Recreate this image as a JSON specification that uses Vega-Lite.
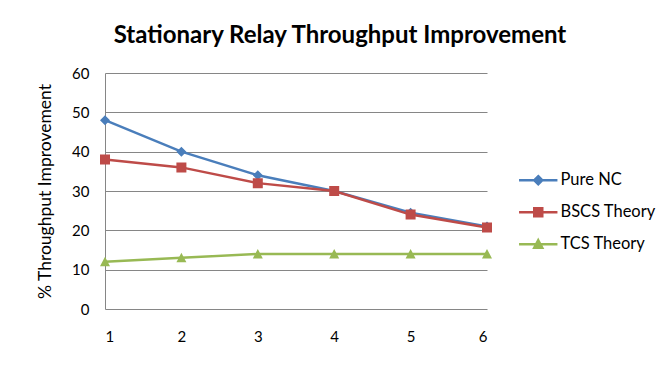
{
  "$schema": "https://vega.github.io/schema/vega-lite/v6.json",
  "autosize": "none",
  "width": 382,
  "height": 236,
  "padding": {"left": 105, "top": 73, "right": 173, "bottom": 60},
  "background": "white",
  "config": {
    "view": {"stroke": null},
    "font": "Lato",
    "axis": {"labelFont": "Lato", "titleFont": "Lato", "labelColor": "#000000", "titleColor": "#000000"}
  },
  "title": {
    "text": "Stationary Relay  Throughput Improvement",
    "fontSize": 24,
    "fontWeight": "bold",
    "font": "Lato",
    "color": "#000000",
    "anchor": "middle",
    "dx": 44,
    "offset": 18
  },
  "data": {
    "values": [
      {"x": 1, "series": "Pure NC", "value": 48},
      {"x": 2, "series": "Pure NC", "value": 40},
      {"x": 3, "series": "Pure NC", "value": 34},
      {"x": 4, "series": "Pure NC", "value": 30},
      {"x": 5, "series": "Pure NC", "value": 24.5},
      {"x": 6, "series": "Pure NC", "value": 21},
      {"x": 1, "series": "BSCS Theory", "value": 38},
      {"x": 2, "series": "BSCS Theory", "value": 36},
      {"x": 3, "series": "BSCS Theory", "value": 32},
      {"x": 4, "series": "BSCS Theory", "value": 30},
      {"x": 5, "series": "BSCS Theory", "value": 24},
      {"x": 6, "series": "BSCS Theory", "value": 20.7},
      {"x": 1, "series": "TCS Theory", "value": 12},
      {"x": 2, "series": "TCS Theory", "value": 13},
      {"x": 3, "series": "TCS Theory", "value": 14},
      {"x": 4, "series": "TCS Theory", "value": 14},
      {"x": 5, "series": "TCS Theory", "value": 14},
      {"x": 6, "series": "TCS Theory", "value": 14}
    ]
  },
  "encoding": {
    "x": {
      "field": "x", "type": "quantitative",
      "scale": {"domain": [1, 6], "nice": false},
      "axis": {"title": null, "grid": false, "ticks": false, "domain": false, "values": [1,2,3,4,5,6], "labelPadding": 20, "labelFontSize": 15, "format": "d"}
    },
    "y": {
      "field": "value", "type": "quantitative",
      "scale": {"domain": [0, 60], "nice": false},
      "axis": {"title": "% Throughput  Improvement", "titleFontSize": 17.5, "titleFontWeight": "normal", "values": [0,10,20,30,40,50,60], "labelFontSize": 15, "ticks": false, "labelPadding": 16, "titlePadding": 17, "domainColor": "#868686", "gridColor": "#868686", "gridWidth": 1}
    },
    "color": {"field": "series", "type": "nominal",
      "scale": {"domain": ["Pure NC", "BSCS Theory", "TCS Theory"], "range": ["#4A7EBB", "#BE4B48", "#98B954"]},
      "legend": {
        "title": null, "orient": "none", "legendX": 425, "legendY": 99,
        "labelFontSize": 16.5, "labelFont": "Lato", "labelColor": "#000000",
        "symbolSize": 64, "labelOffset": 14, "rowPadding": 13,
        "symbolOpacity": 1,
        "encode": {"symbols": {"update": {"stroke": {"scale": "color", "field": "value"}, "strokeWidth": {"value": 2.5}}}}
      }
    }
  },
  "layer": [
    {
      "mark": {"type": "line", "strokeWidth": 2.5}
    },
    {
      "mark": {"type": "point", "filled": true, "opacity": 1, "size": 100},
      "encoding": {
        "shape": {"field": "series", "type": "nominal",
          "scale": {"domain": ["Pure NC", "BSCS Theory", "TCS Theory"],
            "range": ["M-4.8,0L4.8,0M0,-1L1,0L0,1L-1,0Z", "M-4.8,0L4.8,0M-1,-1L1,-1L1,1L-1,1Z", "M-4.8,0L4.8,0M0,-1L1,0.9L-1,0.9Z"]}
        }
      }
    }
  ]
}
